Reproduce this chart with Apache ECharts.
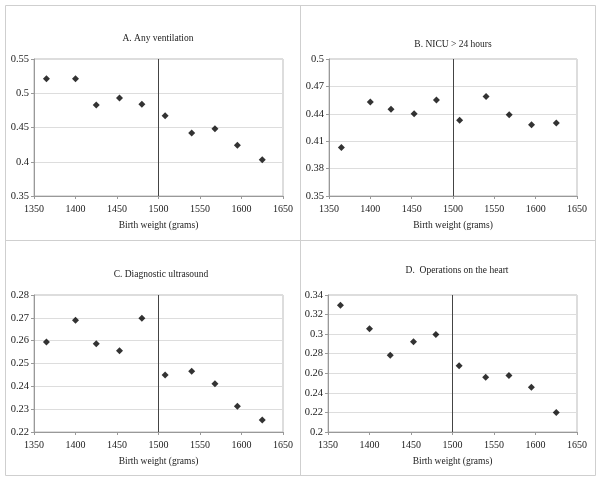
<!DOCTYPE html>
<html>
<head>
<meta charset="utf-8">
<script src="https://cdn.jsdelivr.net/npm/echarts@6/dist/echarts.min.js"></script>
<style>
  html, body { margin: 0; padding: 0; background: #fff; }
  #main { width: 601px; height: 482px; }
</style>
</head>
<body>
<div id="main"></div>
<script>
var birthWeight = [1365, 1400, 1425, 1453, 1480, 1508, 1540, 1568, 1595, 1625];
var anyVentilation = [0.521, 0.521, 0.483, 0.493, 0.484, 0.467, 0.442, 0.448, 0.424, 0.403];
var nicu24 = [0.403, 0.453, 0.445, 0.440, 0.455, 0.433, 0.459, 0.439, 0.428, 0.430];
var ultrasound = [0.2594, 0.2689, 0.2586, 0.2556, 0.2698, 0.2450, 0.2466, 0.2411, 0.2313, 0.2253];
var heartOps = [0.3294, 0.3055, 0.2785, 0.2922, 0.2997, 0.2676, 0.2560, 0.2577, 0.2458, 0.2198];
var panelTitles = ['A. Any ventilation', 'B. NICU > 24 hours', 'C. Diagnostic ultrasound', 'D.  Operations on the heart'];
var yRanges = [[0.35, 0.55, 0.05], [0.35, 0.5, 0.03], [0.22, 0.28, 0.01], [0.2, 0.34, 0.02]];
var cutoff = 1500;

var chart = echarts.init(document.getElementById('main'));
var font = '"Liberation Serif", "Times New Roman", serif';
var grids = [
  { left: 34, top: 59, width: 249, height: 137 },
  { left: 329, top: 59, width: 248, height: 137 },
  { left: 34, top: 295, width: 249, height: 137 },
  { left: 328, top: 295, width: 249, height: 137 }
];
var titlePos = [[153, 28], [448, 34], [156, 264], [452, 260]];
var seriesData = [anyVentilation, nicu24, ultrasound, heartOps];

var option = {
  animation: false,
  backgroundColor: '#fff',
  title: panelTitles.map(function (t, i) {
    return {
      text: t, left: titlePos[i][0], top: titlePos[i][1], textAlign: 'center',
      textStyle: { fontFamily: font, fontSize: 9.5, fontWeight: 'normal', color: '#222' }
    };
  }),
  graphic: [
    { type: 'rect', shape: { x: 5.5, y: 5.5, width: 590, height: 470 }, style: { fill: 'none', stroke: '#cfcfcf', lineWidth: 1 } },
    { type: 'line', shape: { x1: 300.5, y1: 5, x2: 300.5, y2: 476 }, style: { stroke: '#cfcfcf', lineWidth: 1 } },
    { type: 'line', shape: { x1: 5, y1: 240.5, x2: 596, y2: 240.5 }, style: { stroke: '#cfcfcf', lineWidth: 1 } }
  ],
  grid: grids.map(function (g) {
    return Object.assign({ show: true, borderColor: '#bbb', borderWidth: 1, backgroundColor: '#fff' }, g);
  }),
  xAxis: grids.map(function (g, i) {
    return {
      type: 'value', gridIndex: i, min: 1350, max: 1650, interval: 50,
      name: 'Birth weight (grams)', nameLocation: 'middle', nameGap: 24,
      nameTextStyle: { fontFamily: font, fontSize: 9.5, color: '#222' },
      axisLine: { lineStyle: { color: '#999' } },
      axisTick: { inside: false, length: 3, lineStyle: { color: '#999' } },
      axisLabel: { fontFamily: font, fontSize: 10, color: '#222', margin: 8, formatter: function (v) { return String(v); } },
      splitLine: { show: false }
    };
  }),
  yAxis: yRanges.map(function (r, i) {
    return {
      type: 'value', gridIndex: i, min: r[0], max: r[1], interval: r[2],
      axisLine: { show: true, lineStyle: { color: '#999' } },
      axisTick: { show: true, length: 3, lineStyle: { color: '#999' } },
      axisLabel: { fontFamily: font, fontSize: 10.5, color: '#222', margin: 5 },
      splitLine: { lineStyle: { color: '#ddd' } }
    };
  }),
  series: seriesData.map(function (vals, i) {
    return {
      type: 'scatter', xAxisIndex: i, yAxisIndex: i,
      symbol: 'diamond', symbolSize: 7,
      itemStyle: { color: '#000' },
      data: birthWeight.map(function (x, k) { return [x, vals[k]]; }),
      markLine: {
        silent: true, symbol: 'none', label: { show: false },
        lineStyle: { color: '#444', type: 'solid', width: 1 },
        data: [{ xAxis: cutoff }]
      }
    };
  })
};
chart.setOption(option);
</script>
</body>
</html>
